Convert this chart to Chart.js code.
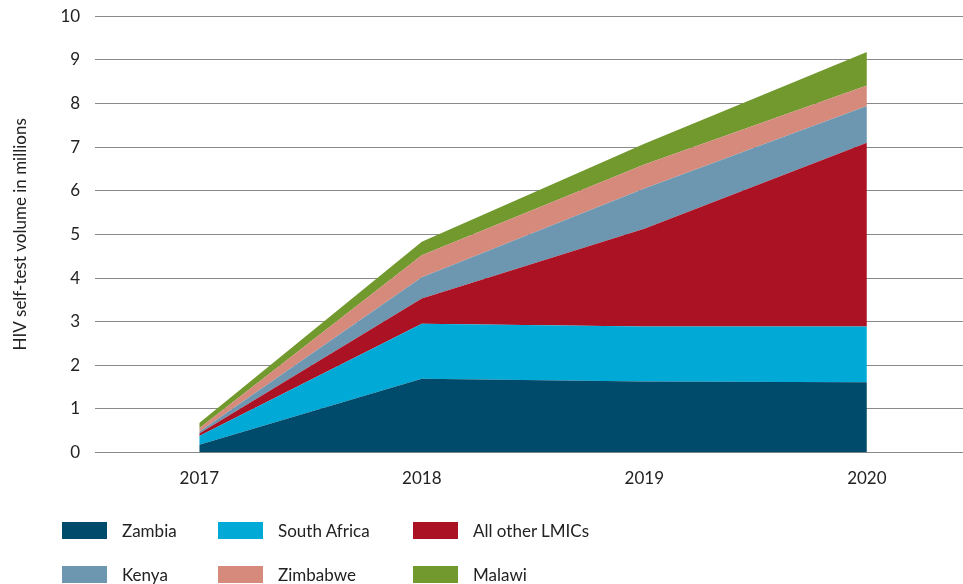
<!DOCTYPE html>
<html>
<head>
<meta charset="utf-8">
<script src="https://cdn.jsdelivr.net/npm/chart.js@4/dist/chart.umd.min.js"></script>
<style>
  html, body { margin: 0; padding: 0; background: #fff; }
  #wrap { position: relative; width: 963px; height: 584px; overflow: hidden; }
  #c { position: absolute; left: 0; top: 0; }
  .lg { position: absolute; font-family: Lato, "Noto Sans", sans-serif; font-size: 17px; color: #222; white-space: nowrap; }
  .lg .box { position: absolute; left: 0; top: 0; width: 45px; height: 17px; }
  .lg .txt { position: absolute; left: 60px; top: -2px; }
</style>
</head>
<body>
<div id="wrap">
  <canvas id="c" width="963" height="584"></canvas>
</div>
<script>
const years = [2017, 2018, 2019, 2020];
const zambia      = [0.18, 1.69, 1.63, 1.61];
const southAfrica = [0.20, 1.26, 1.26, 1.28];
const allOther    = [0.06, 0.58, 2.24, 4.21];
const kenya       = [0.04, 0.49, 0.92, 0.84];
const zimbabwe    = [0.08, 0.50, 0.55, 0.47];
const malawi      = [0.12, 0.31, 0.48, 0.77];
const yTicks = [0, 1, 2, 3, 4, 5, 6, 7, 8, 9, 10];
const yTitle = 'HIV self-test volume in millions';

const series = [
  { label: 'Zambia', data: zambia, color: '#004a6b' },
  { label: 'South Africa', data: southAfrica, color: '#00a9d6' },
  { label: 'All other LMICs', data: allOther, color: '#ab1224' },
  { label: 'Kenya', data: kenya, color: '#6d97b1' },
  { label: 'Zimbabwe', data: zimbabwe, color: '#d68a7c' },
  { label: 'Malawi', data: malawi, color: '#72992e' }
];

const FONT = 'Lato, "Noto Sans", sans-serif';

const datasets = series.map((s, i) => ({
  label: s.label,
  data: years.map((y, j) => ({ x: y, y: s.data[j] })),
  backgroundColor: s.color,
  borderColor: s.color,
  borderWidth: 0,
  pointRadius: 0,
  tension: 0,
  fill: i === 0 ? 'origin' : '-1'
}));

new Chart(document.getElementById('c'), {
  type: 'line',
  data: { datasets },
  options: {
    responsive: false,
    animation: false,
    layout: { padding: { top: 0, right: 0, bottom: 87, left: 10 } },
    plugins: { legend: { display: false }, tooltip: { enabled: false } },
    scales: {
      x: {
        type: 'linear',
        min: 2016.532,
        max: 2020.432,
        afterBuildTicks: (sc) => { sc.ticks = years.map(v => ({ value: v })); },
        grid: { display: false },
        border: { display: false },
        ticks: {
          color: '#222',
          font: { family: FONT, size: 17 },
          padding: 8,
          callback: (v) => String(v)
        }
      },
      y: {
        stacked: true,
        min: 0,
        max: 10,
        afterBuildTicks: (sc) => { sc.ticks = yTicks.map(v => ({ value: v })); },
        grid: { color: '#8a8a8a', lineWidth: 1, drawTicks: true, tickLength: 9, tickColor: 'rgba(0,0,0,0)' },
        border: { display: false },
        ticks: {
          color: '#222',
          font: { family: FONT, size: 17 },
          padding: 6
        },
        title: {
          display: true,
          text: yTitle,
          color: '#222',
          font: { family: FONT, size: 17 },
          padding: { top: 0, bottom: 24 }
        }
      }
    }
  }
});

// HTML legend built from the series definitions
const wrap = document.getElementById('wrap');
const colX = [62, 218, 413];
const rowY = [522, 566];
series.forEach((s, i) => {
  const d = document.createElement('div');
  d.className = 'lg';
  d.style.left = colX[i % 3] + 'px';
  d.style.top = rowY[Math.floor(i / 3)] + 'px';
  d.innerHTML = '<div class="box" style="background:' + s.color + '"></div><div class="txt">' + s.label + '</div>';
  wrap.appendChild(d);
});
</script>
</body>
</html>
